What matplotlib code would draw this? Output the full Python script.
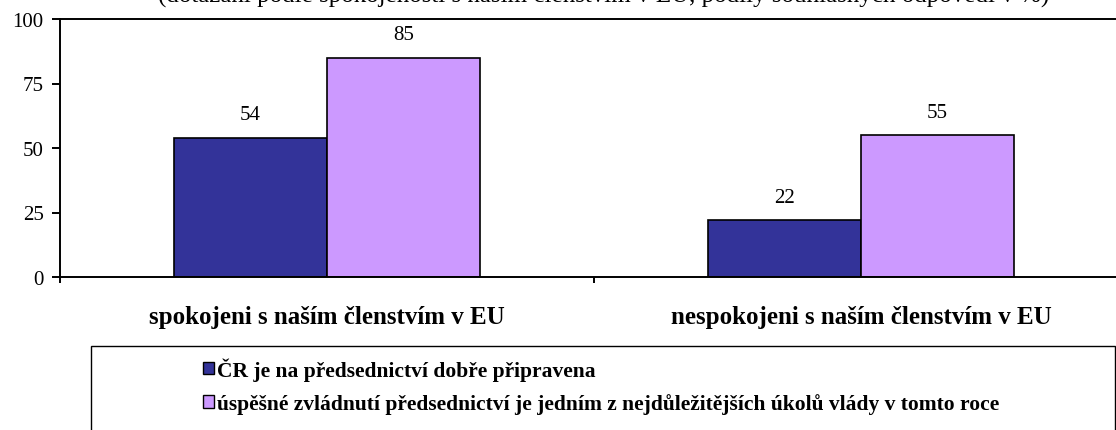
import numpy as np
import matplotlib
matplotlib.use("Agg")
import matplotlib.pyplot as plt
from matplotlib.patches import Patch, Rectangle

plt.rcParams['font.family'] = ['Liberation Serif', 'DejaVu Serif']

# data
kategorie = ["spokojeni s naším členstvím v EU", "nespokojeni s naším členstvím v EU"]
pripravena = [54, 22]
zvladnuti = [85, 55]
serie = ["ČR je na předsednictví dobře připravena",
         "úspěšné zvládnutí předsednictví je jedním z nejdůležitějších úkolů vlády v tomto roce"]
y_ticks = [0, 25, 50, 75, 100]
titulek = "(dotázaní podle spokojenosti s naším členstvím v EU, podíly souhlasných odpovědí v %)"

W, H = 1116, 431
fig = plt.figure(figsize=(W / 100, H / 100), dpi=100)
ax = fig.add_axes([60 / W, 153 / H, 1068 / W, 258 / H])

x = np.arange(len(kategorie))
w = 0.2865
b1 = ax.bar(x - w / 2, pripravena, w, color='#333399', edgecolor='black', lw=1.2)
b2 = ax.bar(x + w / 2, zvladnuti, w, color='#CC99FF', edgecolor='black', lw=1.2)

for bars, vals in ((b1, pripravena), (b2, zvladnuti)):
    for r, v in zip(bars, vals):
        ax.annotate(str(v), (r.get_x() + r.get_width() / 2, v), xytext=(0, 16.5),
                    textcoords='offset points', ha='center', va='center', fontsize=15,
                    bbox=dict(fc='white', ec='none', pad=3.5), zorder=5)

ax.set_xlim(-0.5, 1.5)
ax.set_ylim(0, 100)
ax.set_yticks(y_ticks)
ax.tick_params(axis='y', direction='out', length=5.8, width=1.4, labelsize=15, pad=6)
ax.set_xticks([-0.5, 0.5, 1.5])
ax.set_xticklabels([])
ax.tick_params(axis='x', which='major', direction='out', length=4.5, width=1.4)
ax.set_xticks(x, kategorie, minor=True)
ax.tick_params(axis='x', which='minor', length=0, pad=20.5)
for t in ax.get_xticklabels(minor=True):
    t.set_fontsize(18)
    t.set_fontweight('bold')

ax.spines['right'].set_visible(False)
for s in ('left', 'top', 'bottom'):
    ax.spines[s].set_linewidth(1.4)

# titulek (oříznutý nahoře)
fig.text((157 + 1050) / 2 / W, 1 - 3 / H, titulek, ha='center', va='baseline', fontsize=18)

# legenda
fig.patches.append(Rectangle((91 / W, -0.1), (1115 - 91) / W, 0.1 + (H - 347) / H,
                             transform=fig.transFigure, fill=False, ec='black', lw=1.0))
handles = [Patch(fc='#333399', ec='black', lw=1.0), Patch(fc='#CC99FF', ec='black', lw=1.0)]
fig.legend(handles, serie, loc='upper left', bbox_to_anchor=(203 / W, 1 - 358 / H),
           frameon=False, prop=dict(weight='bold', size=15.5), handlelength=0.51,
           handleheight=0.51, handletextpad=0.12, labelspacing=0.59,
           borderpad=0, borderaxespad=0)

fig.savefig("out.png", dpi=100)
